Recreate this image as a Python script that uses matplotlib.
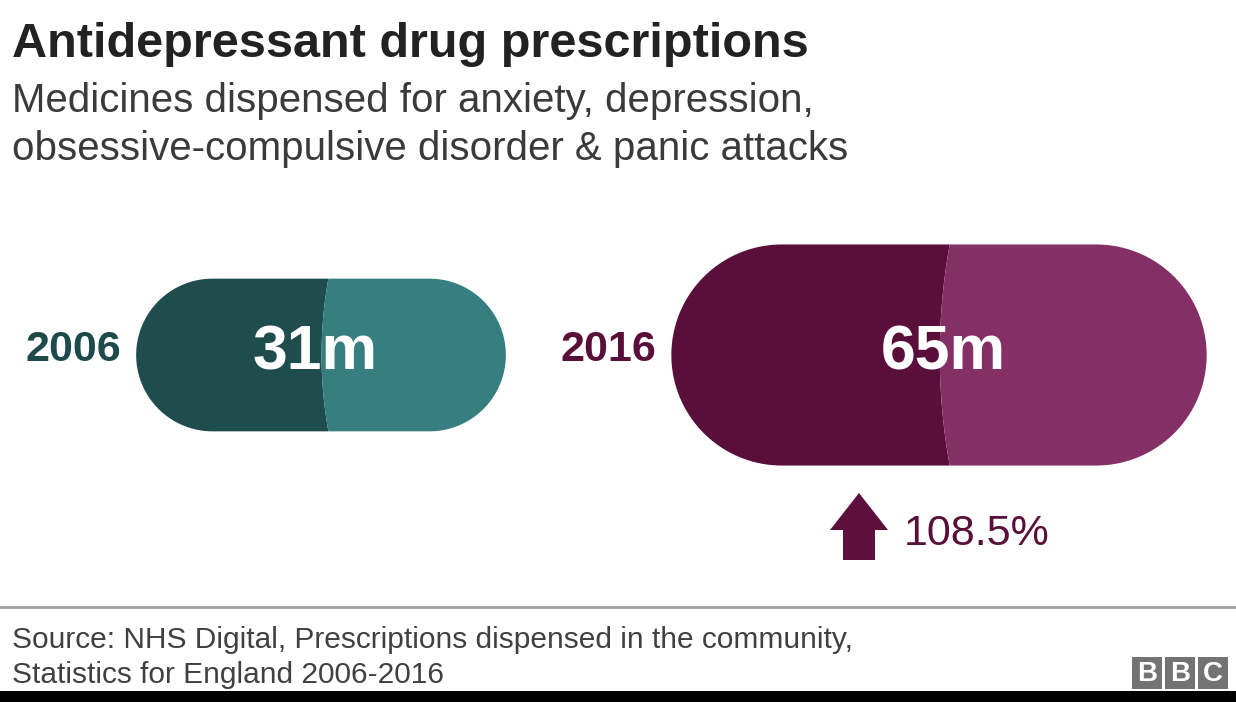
import numpy as np
import matplotlib.pyplot as plt
from matplotlib.patches import Polygon, FancyArrow, Rectangle

# data
years = ["2006", "2016"]
prescriptions_m = [31, 65]
value_labels = ["31m", "65m"]
change_label = "108.5%"

title = "Antidepressant drug prescriptions"
subtitle = ["Medicines dispensed for anxiety, depression,",
            "obsessive-compulsive disorder & panic attacks"]
source = ["Source: NHS Digital, Prescriptions dispensed in the community,",
          "Statistics for England 2006-2016"]

# styles
dark_cols = ["#1f4d4e", "#5a0f3b"]
light_cols = ["#367e7f", "#852f67"]
label_cols = ["#1e4a4b", "#5a0f3b"]
font = "Liberation Sans"

W, H = 1236, 702
fig = plt.figure(figsize=(W / 100, H / 100), dpi=100)
ax = fig.add_axes([0, 0, 1, 1])
ax.set_xlim(0, W)
ax.set_ylim(H, 0)
ax.axis("off")


def pill(cx, cy, w, c_dark, c_light, split=0.52):
    h = w * 0.413
    r = h / 2
    x0 = cx - w / 2
    x1 = cx + w / 2
    xs = x0 + split * w
    bulge = 0.045 * h
    t = np.linspace(np.pi / 2, 3 * np.pi / 2, 80)
    left = np.column_stack([x0 + r + r * np.cos(t), cy + r * np.sin(t)])
    yy = np.linspace(cy - r, cy + r, 80)
    seam = np.column_stack([xs - bulge * (1 - ((yy - cy) / r) ** 2), yy])
    t2 = np.linspace(np.pi / 2, -np.pi / 2, 80)
    right = np.column_stack([x1 - r + r * np.cos(t2), cy + r * np.sin(t2)])
    ax.add_patch(Polygon(np.vstack([left, seam]), closed=True,
                         facecolor=c_dark, edgecolor="none"))
    ax.add_patch(Polygon(np.vstack([seam, right]), closed=True,
                         facecolor=c_light, edgecolor="none"))
    return x0


# pills, width scaled by sqrt of value so area is proportional
centers_x = [321, 939]
text_shift = [-6, 4]
cy = 355
k = 66.4
for i in range(len(years)):
    w = k * np.sqrt(prescriptions_m[i])
    x0 = pill(centers_x[i], cy, w, dark_cols[i], light_cols[i])
    ax.text(x0 - 15, cy - 5, years[i], ha="right", va="center",
            fontsize=31, fontweight="bold", color=label_cols[i], family=font)
    ax.text(centers_x[i] + text_shift[i], cy - 2, value_labels[i],
            ha="center", va="center", fontsize=45, fontweight="bold",
            color="white", family=font)

# change arrow
ax.add_patch(FancyArrow(859, 560, 0, -67, width=32, head_width=58,
                        head_length=37, length_includes_head=True,
                        facecolor="#5e0f3e", edgecolor="none"))
ax.text(904, 534, change_label, ha="left", va="center", fontsize=31,
        color="#5a0f3b", family=font)

# titles
fig.text(12 / W, 1 - 57 / H, title, ha="left", va="baseline", fontsize=35,
         fontweight="bold", color="#222222", family=font)
fig.text(12 / W, 1 - 112 / H, subtitle[0], ha="left", va="baseline",
         fontsize=29, color="#3a3a3a", family=font)
fig.text(12 / W, 1 - 160 / H, subtitle[1], ha="left", va="baseline",
         fontsize=29, color="#3a3a3a", family=font)

# footer
ax.plot([0, W], [607, 607], color="#a0a0a0", lw=2)
fig.text(12 / W, 1 - 648 / H, source[0], ha="left", va="baseline",
         fontsize=21.5, color="#404040", family=font)
fig.text(12 / W, 1 - 683 / H, source[1], ha="left", va="baseline",
         fontsize=21.5, color="#404040", family=font)

for i, letter in enumerate("BBC"):
    bx = 1132 + i * 33
    ax.add_patch(Rectangle((bx, 657), 30, 32, facecolor="#737373",
                           edgecolor="none"))
    ax.text(bx + 15, 674, letter, ha="center", va="center", fontsize=20,
            fontweight="bold", color="white", family=font)

ax.add_patch(Rectangle((0, 691), W, 11, facecolor="black", edgecolor="none"))

fig.savefig("out.png", dpi=100, facecolor="white")
